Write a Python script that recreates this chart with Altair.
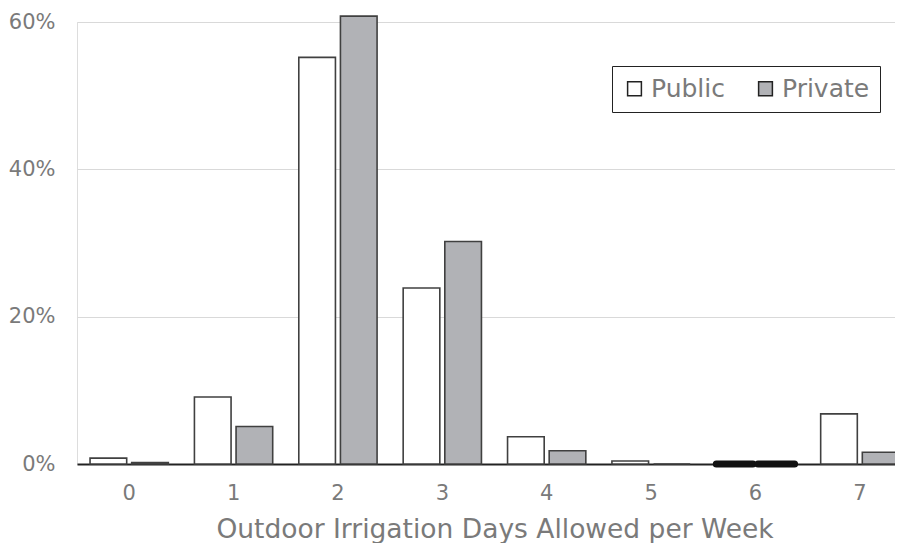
import altair as alt
import pandas as pd

days = ["0", "1", "2", "3", "4", "5", "6", "7"]
public = [0.8, 9.1, 55.2, 23.9, 3.7, 0.4, 0.0, 6.8]
private = [0.2, 5.1, 60.8, 30.2, 1.8, 0.0, 0.0, 1.6]
groups = ["Public", "Private"]
no_data_days = ["6"]

rows = []
for d, pu, pr in zip(days, public, private):
    rows.append({"day": d, "group": "Public", "share": pu / 100})
    rows.append({"day": d, "group": "Private", "share": pr / 100})
df = pd.DataFrame(rows)

font = "DejaVu Sans"
gray = "#7a7a7a"

x = alt.X("day:N", sort=days, title="Outdoor Irrigation Days Allowed per Week",
          scale=alt.Scale(paddingInner=0.25, paddingOuter=0.125),
          axis=alt.Axis(labelAngle=0, ticks=False, domainColor="#222222", domainWidth=2,
                        labelFontSize=21, labelColor=gray, labelPadding=18,
                        titleFontSize=26.5, titleColor=gray, titleFontWeight="normal",
                        titlePadding=13, labelFont=font, titleFont=font))
y = alt.Y("share:Q", title=None,
          scale=alt.Scale(domain=[0, 0.6], nice=False),
          axis=alt.Axis(values=[0, 0.2, 0.4, 0.6], format=".0%", domain=False, ticks=False,
                        gridColor="#d9d9d9", gridWidth=1.2, labelFontSize=21,
                        labelColor=gray, labelPadding=22, labelFont=font))
xo = alt.XOffset("group:N", sort=groups, scale=alt.Scale(paddingInner=0.12))

bars = alt.Chart(df).mark_bar(stroke="#404040", strokeWidth=1.6).encode(
    x=x, y=y, xOffset=xo,
    color=alt.Color("group:N", sort=groups,
                    scale=alt.Scale(domain=groups, range=["#ffffff", "#b1b2b6"]),
                    legend=alt.Legend(title=None, orient="none", legendX=535, legendY=44,
                                      direction="horizontal", strokeColor="#222222",
                                      fillColor="white", padding=10, columnPadding=28,
                                      symbolType="square", symbolSize=190,
                                      symbolStrokeColor="#222222", symbolStrokeWidth=1.5,
                                      labelFontSize=25, labelColor=gray, labelFont=font,
                                      labelOffset=4)),
)

marks = alt.Chart(df[df["day"].isin(no_data_days)]).mark_bar(
    stroke="#111111", fill="#111111", strokeWidth=7, strokeJoin="round"
).encode(x=x, y=y, xOffset=xo)

chart = alt.layer(bars, marks).properties(
    width=835, height=442, padding={"top": 3, "left": 0, "right": -17, "bottom": 0}
).configure_view(stroke=None).configure(font=font)

chart.save("out.html", embed_options={"renderer": "svg", "actions": False})
